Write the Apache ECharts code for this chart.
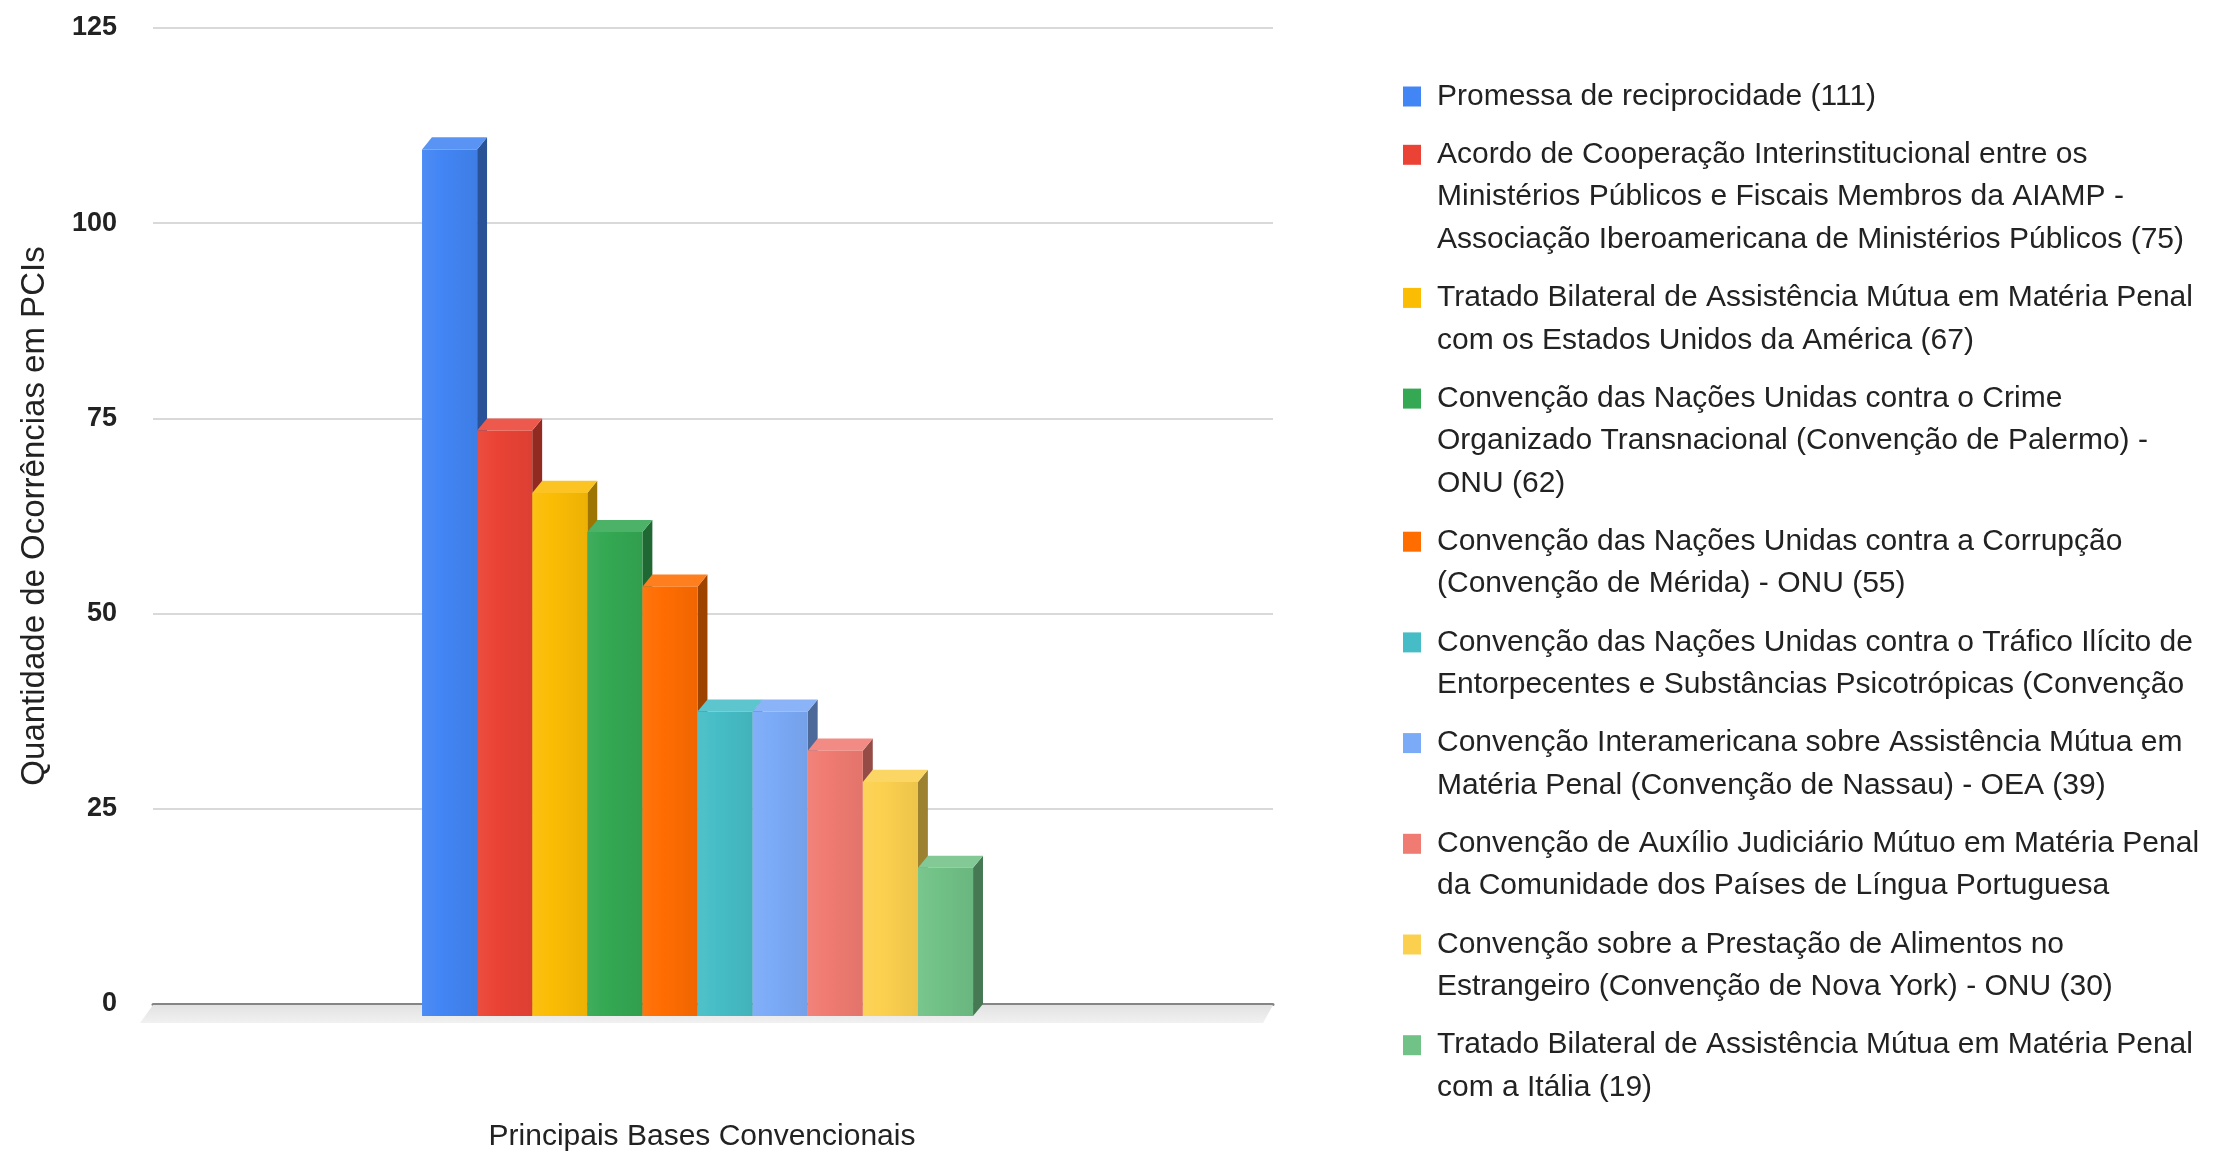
<!DOCTYPE html>
<html>
<head>
<meta charset="utf-8">
<script src="https://cdn.jsdelivr.net/npm/echarts@6/dist/echarts.min.js"></script>
<style>
  html, body { margin: 0; padding: 0; background: #fff; }
  #chart { width: 2218px; height: 1157px; }
</style>
</head>
<body>
<div id="chart"></div>
<script>
// dados
var categories = ['Principais Bases Convencionais'];

var seriesNames = [
  'Promessa de reciprocidade',
  'Acordo de Cooperação Interinstitucional entre os Ministérios Públicos e Fiscais Membros da AIAMP - Associação Iberoamericana de Ministérios Públicos',
  'Tratado Bilateral de Assistência Mútua em Matéria Penal com os Estados Unidos da América',
  'Convenção das Nações Unidas contra o Crime Organizado Transnacional (Convenção de Palermo) - ONU',
  'Convenção das Nações Unidas contra a Corrupção (Convenção de Mérida) - ONU',
  'Convenção das Nações Unidas contra o Tráfico Ilícito de Entorpecentes e Substâncias Psicotrópicas (Convenção de Viena) - ONU',
  'Convenção Interamericana sobre Assistência Mútua em Matéria Penal (Convenção de Nassau) - OEA',
  'Convenção de Auxílio Judiciário Mútuo em Matéria Penal da Comunidade dos Países de Língua Portuguesa',
  'Convenção sobre a Prestação de Alimentos no Estrangeiro (Convenção de Nova York) - ONU',
  'Tratado Bilateral de Assistência Mútua em Matéria Penal com a Itália'
];

var values = [111, 75, 67, 62, 55, 39, 39, 34, 30, 19];

// texto da legenda como aparece (quebrado e truncado)
var legendLines = [
  ['Promessa de reciprocidade (111)'],
  ['Acordo de Cooperação Interinstitucional entre os',
   'Ministérios Públicos e Fiscais Membros da AIAMP -',
   'Associação Iberoamericana de Ministérios Públicos (75)'],
  ['Tratado Bilateral de Assistência Mútua em Matéria Penal',
   'com os Estados Unidos da América (67)'],
  ['Convenção das Nações Unidas contra o Crime',
   'Organizado Transnacional (Convenção de Palermo) -',
   'ONU (62)'],
  ['Convenção das Nações Unidas contra a Corrupção',
   '(Convenção de Mérida) - ONU (55)'],
  ['Convenção das Nações Unidas contra o Tráfico Ilícito de',
   'Entorpecentes e Substâncias Psicotrópicas (Convenção'],
  ['Convenção Interamericana sobre Assistência Mútua em',
   'Matéria Penal (Convenção de Nassau) - OEA (39)'],
  ['Convenção de Auxílio Judiciário Mútuo em Matéria Penal',
   'da Comunidade dos Países de Língua Portuguesa'],
  ['Convenção sobre a Prestação de Alimentos no',
   'Estrangeiro (Convenção de Nova York) - ONU (30)'],
  ['Tratado Bilateral de Assistência Mútua em Matéria Penal',
   'com a Itália (19)']
];

var colors = ['#4285F4', '#EA4335', '#FBBC04', '#34A853', '#FF6D01',
              '#46BDC6', '#7BAAF7', '#F07B72', '#FCD04F', '#71C287'];

var yTicks = { min: 0, max: 125, interval: 25 };

var FONT = "'Liberation Sans', Arial, sans-serif";
var PITCH = 0.0492;   // largura de cada barra / largura da categoria
var SHIFT = -0.0138;  // deslocamento do grupo de barras

var chart = echarts.init(document.getElementById('chart'));

// mistura a cor com preto (k<1) ou com branco (w>0)
function shade(hex, k, w) {
  var r = parseInt(hex.slice(1, 3), 16), g = parseInt(hex.slice(3, 5), 16), b = parseInt(hex.slice(5, 7), 16);
  var f = function (v) { v = v * k; return Math.round(v + (255 - v) * w); };
  return 'rgb(' + f(r) + ',' + f(g) + ',' + f(b) + ')';
}

// barra "3D": frente, lado e topo
function renderBar(params, api) {
  var i = params.seriesIndex;
  var top = api.coord([api.value(0), api.value(1)]);
  var base = api.coord([api.value(0), 0]);
  var band = api.size([1, 0])[0];
  var pitch = band * PITCH;
  var dx = pitch * 0.18, dy = pitch * 0.22;
  var n = values.length;
  var fx0 = base[0] + band * SHIFT + (i - n / 2) * pitch;
  var fx1 = fx0 + pitch;
  var fTop = top[1] + dy, fBot = base[1] + dy;
  var c = colors[i];
  return {
    type: 'group',
    children: [
      {
        type: 'polygon',
        shape: { points: [[fx1, fTop], [fx1 + dx, top[1]], [fx1 + dx, base[1]], [fx1, fBot]] },
        style: { fill: shade(c, 0.62, 0) }
      },
      {
        type: 'polygon',
        shape: { points: [[fx0, fTop], [fx0 + dx, top[1]], [fx1 + dx, top[1]], [fx1, fTop]] },
        style: { fill: shade(c, 1, 0.12) }
      },
      {
        type: 'rect',
        shape: { x: fx0, y: fTop, width: pitch, height: fBot - fTop },
        style: {
          fill: new echarts.graphic.LinearGradient(0, 0, 1, 0, [
            { offset: 0, color: shade(c, 1, 0.06) },
            { offset: 0.35, color: c },
            { offset: 1, color: shade(c, 0.94, 0) }
          ])
        }
      }
    ]
  };
}

// piso cinza sob o eixo
function renderFloor(params, api) {
  var cs = params.coordSys;
  var y0 = cs.y + cs.height + 1;
  return {
    type: 'polygon',
    shape: { points: [[cs.x, y0], [cs.x + cs.width, y0], [cs.x + cs.width - 10, y0 + 18], [cs.x - 13, y0 + 18]] },
    style: {
      fill: new echarts.graphic.LinearGradient(0, 0, 0, 1, [
        { offset: 0, color: '#e2e2e2' },
        { offset: 1, color: '#f1f1f1' }
      ])
    },
    silent: true
  };
}

var series = seriesNames.map(function (name, i) {
  return {
    type: 'custom',
    name: name,
    renderItem: renderBar,
    itemStyle: { color: colors[i] },
    data: [[0, values[i]]],
    z: 3
  };
});
series.push({
  type: 'custom',
  name: 'floor',
  renderItem: renderFloor,
  data: [[0, 0]],
  z: 1,
  silent: true
});

// uma legenda por item; linhas vazias no início deixam o ícone na primeira linha
var LH = 42.4, ITEM_GAP = 15.9;
var legends = [];
var center = 96.5;
seriesNames.forEach(function (name, i) {
  var nLines = legendLines[i].length;
  var pad = new Array(nLines).join('\n');
  legends.push({
    data: [name],
    left: 1403,
    top: center - (2 * nLines - 1) * LH / 2,
    orient: 'vertical',
    padding: 0,
    icon: 'rect',
    itemWidth: 18,
    itemHeight: 20,
    selectedMode: false,
    formatter: function () { return pad + legendLines[i].join('\n'); },
    textStyle: {
      fontFamily: FONT,
      fontSize: 30,
      lineHeight: LH,
      color: '#222',
      padding: [0, 0, 0, 11]
    }
  });
  center += nLines * LH + ITEM_GAP;
});

var option = {
  animation: false,
  backgroundColor: '#fff',
  grid: { left: 153, right: 945, top: 28, bottom: 153 },
  legend: legends,
  xAxis: {
    type: 'category',
    data: categories,
    axisLine: { show: true, lineStyle: { color: '#858585', width: 3 } },
    axisTick: { show: false },
    axisLabel: { margin: 118, fontFamily: FONT, fontSize: 30, color: '#222', padding: [0, 22, 0, 0] },
    splitLine: { show: false }
  },
  yAxis: {
    type: 'value',
    min: yTicks.min,
    max: yTicks.max,
    interval: yTicks.interval,
    name: 'Quantidade de Ocorrências em PCIs',
    nameLocation: 'middle',
    nameRotate: 90,
    nameGap: 102,
    nameTextStyle: { fontFamily: FONT, fontSize: 33, color: '#222' },
    axisLine: { show: false },
    axisTick: { show: false },
    axisLabel: { margin: 36, fontFamily: FONT, fontSize: 27, fontWeight: 'bold', color: '#222' },
    splitLine: { lineStyle: { color: '#d9d9d9', width: 2 } }
  },
  series: series
};

chart.setOption(option);
</script>
</body>
</html>
